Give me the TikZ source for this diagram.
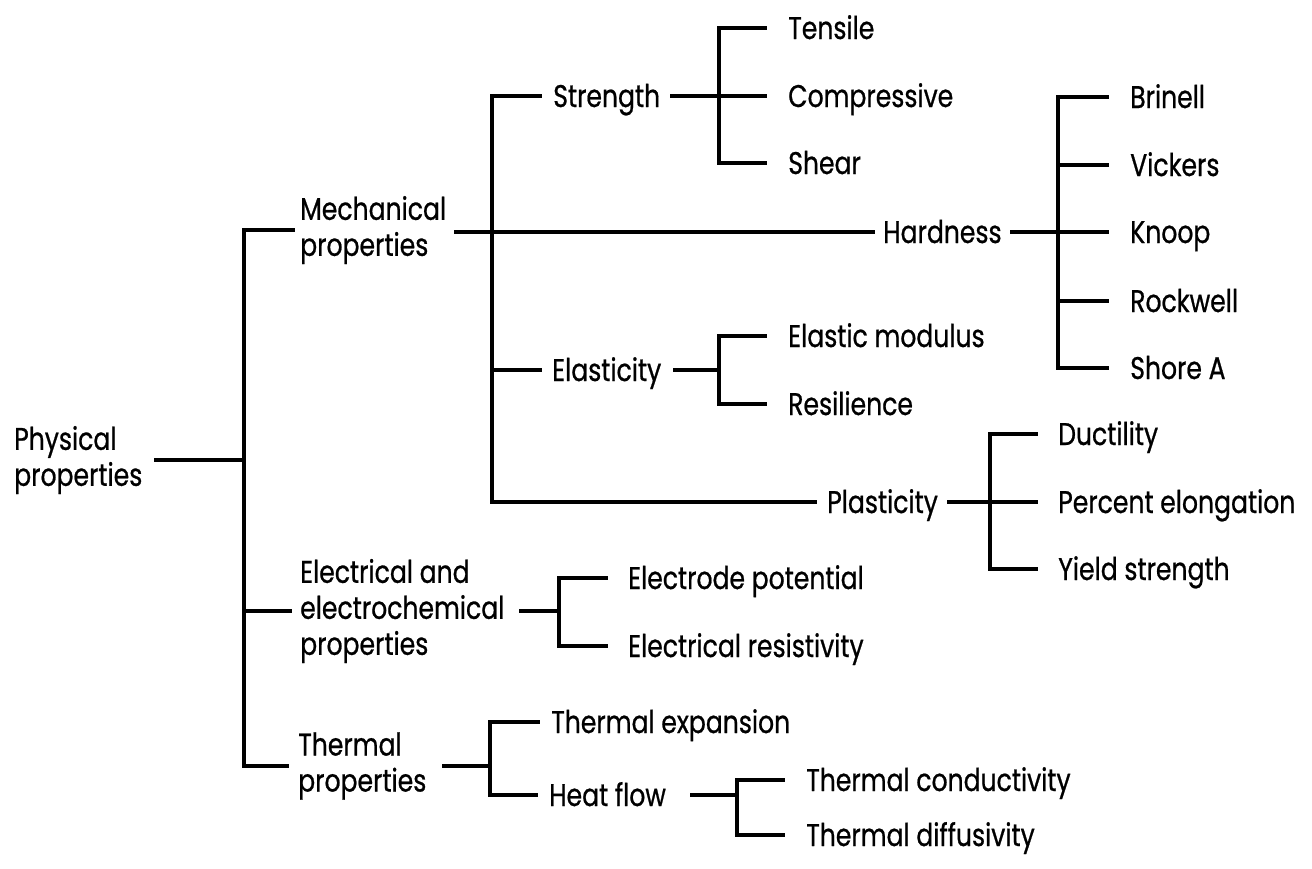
\documentclass[tikz,border=0pt]{standalone}
\usepackage{fontspec}
\setmainfont{Poppins}[FakeStretch=0.80, FakeBold=0.7]
\usetikzlibrary{calc}
\newcommand{\labelfont}{\fontsize{23.5}{27}\selectfont}
\tikzset{
  lbl/.style={anchor=west, inner sep=0pt, font=\labelfont, text height=16.5pt, text depth=0pt},
  blk/.style={anchor=west, inner sep=0pt, font=\labelfont, align=left},
  link/.style={line width=2.4pt, line cap=rect}
}
\begin{document}
\begin{tikzpicture}[x=0.75pt, y=-0.75pt]
\useasboundingbox (0,0) rectangle (1312,868);

% ---- labels ----
\node[blk] (phys) at (14,460) {Physical\\properties};
\node[blk] (mech) at (300,230) {Mechanical\\properties};
\node[blk] (elec) at (300,611) {Electrical and\\electrochemical\\properties};
\node[blk] (therm) at (298,766) {Thermal\\properties};

\node[lbl] (strength) at (553,96) {Strength};
\node[lbl] (tensile) at (788,28) {Tensile};
\node[lbl] (compr) at (788,96) {Compressive};
\node[lbl] (shear) at (788,163) {Shear};

\node[lbl] (hard) at (883,232) {Hardness};
\node[lbl] (brinell) at (1130,97) {Brinell};
\node[lbl] (vickers) at (1130,165) {Vickers};
\node[lbl] (knoop) at (1130,232) {Knoop};
\node[lbl] (rockwell) at (1130,301) {Rockwell};
\node[lbl] (shore) at (1130,368) {Shore A};

\node[lbl] (elast) at (552,370) {Elasticity};
\node[lbl] (elmod) at (788,336) {Elastic modulus};
\node[lbl] (resil) at (788,404) {Resilience};

\node[lbl] (plast) at (827,502) {Plasticity};
\node[lbl] (duct) at (1058,434) {Ductility};
\node[lbl] (perc) at (1058,502) {Percent elongation};
\node[lbl] (yield) at (1058,569) {Yield strength};

\node[lbl] (elpot) at (628,578) {Electrode potential};
\node[lbl] (elres) at (628,646) {Electrical resistivity};

\node[lbl] (texp) at (551,722) {Thermal expansion};
\node[lbl] (heat) at (549,795) {Heat flow};
\node[lbl] (tcond) at (806,780) {Thermal conductivity};
\node[lbl] (tdiff) at (806,835) {Thermal diffusivity};

% ---- spine positions ----
\coordinate (sA) at (244,0);
\coordinate (sM) at (492,0);
\coordinate (sS) at (719,0);
\coordinate (sH) at (1058,0);
\coordinate (sE) at (719,0);
\coordinate (sP) at (990,0);
\coordinate (sL) at (559,0);
\coordinate (sT) at (490,0);
\coordinate (sF) at (737,0);

% ---- physical properties ----
\draw[link] ($(phys.east)+(13,0)$) -- (sA |- phys.east);
\draw[link] (sA |- mech.west) -- (sA |- therm.west);
\draw[link] (sA |- mech.west) -- ($(mech.west)+(-7,0)$);
\draw[link] (sA |- elec.west) -- ($(elec.west)+(-10,0)$);
\draw[link] (sA |- therm.west) -- ($(therm.west)+(-11,0)$);

% ---- mechanical properties ----
\draw[link] ($(mech.east |- hard.west)+(9,0)$) -- ($(hard.west)+(-10,0)$);
\draw[link] (sM |- strength.west) -- (sM |- plast.west);
\draw[link] (sM |- strength.west) -- ($(strength.west)+(-13,0)$);
\draw[link] (sM |- elast.west) -- ($(elast.west)+(-12,0)$);
\draw[link] (sM |- plast.west) -- ($(plast.west)+(-12,0)$);

% strength
\draw[link] ($(strength.east)+(11,0)$) -- ($(compr.west)+(-23,0)$);
\draw[link] (sS |- tensile.west) -- (sS |- shear.west);
\draw[link] (sS |- tensile.west) -- ($(tensile.west)+(-23,0)$);
\draw[link] (sS |- shear.west) -- ($(shear.west)+(-23,0)$);

% hardness
\draw[link] ($(hard.east)+(10,0)$) -- ($(knoop.west)+(-23,0)$);
\draw[link] (sH |- brinell.west) -- (sH |- shore.west);
\foreach \n in {brinell,vickers,rockwell,shore}
  \draw[link] (sH |- \n.west) -- ($(\n.west)+(-23,0)$);

% elasticity
\draw[link] ($(elast.east)+(13,0)$) -- (sE |- elast.east);
\draw[link] (sE |- elmod.west) -- (sE |- resil.west);
\draw[link] (sE |- elmod.west) -- ($(elmod.west)+(-23,0)$);
\draw[link] (sE |- resil.west) -- ($(resil.west)+(-23,0)$);

% plasticity
\draw[link] ($(plast.east)+(10,0)$) -- ($(perc.west)+(-22,0)$);
\draw[link] (sP |- duct.west) -- (sP |- yield.west);
\draw[link] (sP |- duct.west) -- ($(duct.west)+(-22,0)$);
\draw[link] (sP |- yield.west) -- ($(yield.west)+(-22,0)$);

% ---- electrical and electrochemical properties ----
\draw[link] ($(elec.east)+(16,0)$) -- (sL |- elec.east);
\draw[link] (sL |- elpot.west) -- (sL |- elres.west);
\draw[link] (sL |- elpot.west) -- ($(elpot.west)+(-22,0)$);
\draw[link] (sL |- elres.west) -- ($(elres.west)+(-22,0)$);

% ---- thermal properties ----
\draw[link] ($(therm.east)+(17,0)$) -- (sT |- therm.east);
\draw[link] (sT |- texp.west) -- (sT |- heat.west);
\draw[link] (sT |- texp.west) -- ($(texp.west)+(-13,0)$);
\draw[link] (sT |- heat.west) -- ($(heat.west)+(-13,0)$);

% heat flow
\draw[link] ($(heat.east)+(25,0)$) -- (sF |- heat.east);
\draw[link] (sF |- tcond.west) -- (sF |- tdiff.west);
\draw[link] (sF |- tcond.west) -- ($(tcond.west)+(-23,0)$);
\draw[link] (sF |- tdiff.west) -- ($(tdiff.west)+(-23,0)$);
\end{tikzpicture}
\end{document}
